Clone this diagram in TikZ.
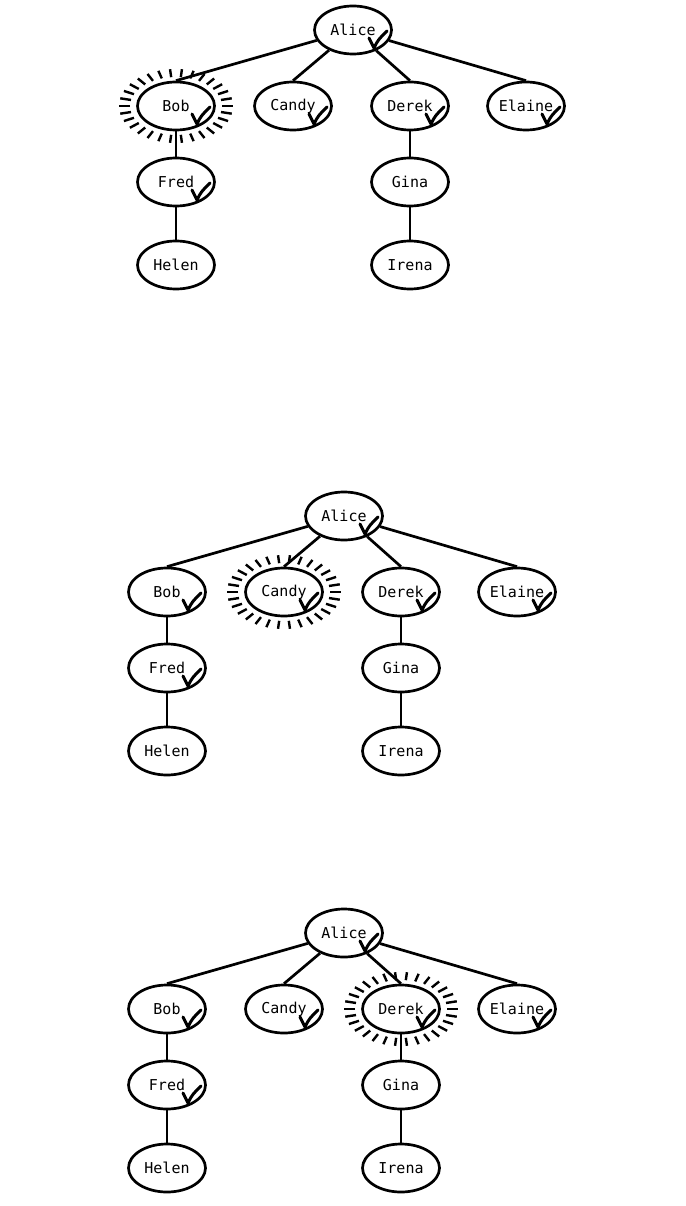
\documentclass[tikz,border=0pt]{standalone}
\usepackage{fontspec}
\setmonofont{DejaVu Sans Mono}
\usetikzlibrary{shapes.geometric,calc}

\begin{document}
\begin{tikzpicture}[x=1pt,y=1pt,line width=2.7pt,
  person/.style={draw,ellipse,minimum width=77pt,minimum height=48pt,
    inner sep=0pt,font=\ttfamily\fontsize{15}{17}\selectfont},
  checkmark/.pic={\draw[line width=3pt,line cap=round,line join=round]
    (16,-8) -- (21,-18) .. controls (25,-10) .. (34,-1);}]
  \useasboundingbox (0,0) rectangle (685,-1206);
  \foreach \n/\ox/\oy/\hot in {1/353/-30/bob,2/344/-516/candy,3/344/-933/derek}{
    \begin{scope}[shift={(\ox,\oy)}]
      \node[person] (alice\n) at (0,0) {Alice};
      \node[person] (bob\n) at (-177,-76) {Bob};
      \node[person] (candy\n) at (-60,-76) {Candy};
      \node[person] (derek\n) at (57,-76) {Derek};
      \node[person] (elaine\n) at (173,-76) {Elaine};
      \node[person] (fred\n) at (-177,-152) {Fred};
      \node[person] (gina\n) at (57,-152) {Gina};
      \node[person] (helen\n) at (-177,-235) {Helen};
      \node[person] (irena\n) at (57,-235) {Irena};
      \foreach \kid in {bob,candy,derek,elaine}
        \draw (alice\n) -- (\kid\n.north);
      \draw (bob\n) -- (fred\n);
      \draw (fred\n) -- (helen\n);
      \draw (derek\n) -- (gina\n);
      \draw (gina\n) -- (irena\n);
      \foreach \who in {alice,bob,candy,derek,elaine,fred}
        \pic at (\who\n) {checkmark};
    \end{scope}
    % halo round the node being visited
    \foreach \a in {0,12,...,350}
      \draw[line width=2.4pt] ($(\hot\n)+(\a:46 and 29)$) -- ($(\hot\n)+(\a:57 and 37)$);
  }
\end{tikzpicture}
\end{document}
